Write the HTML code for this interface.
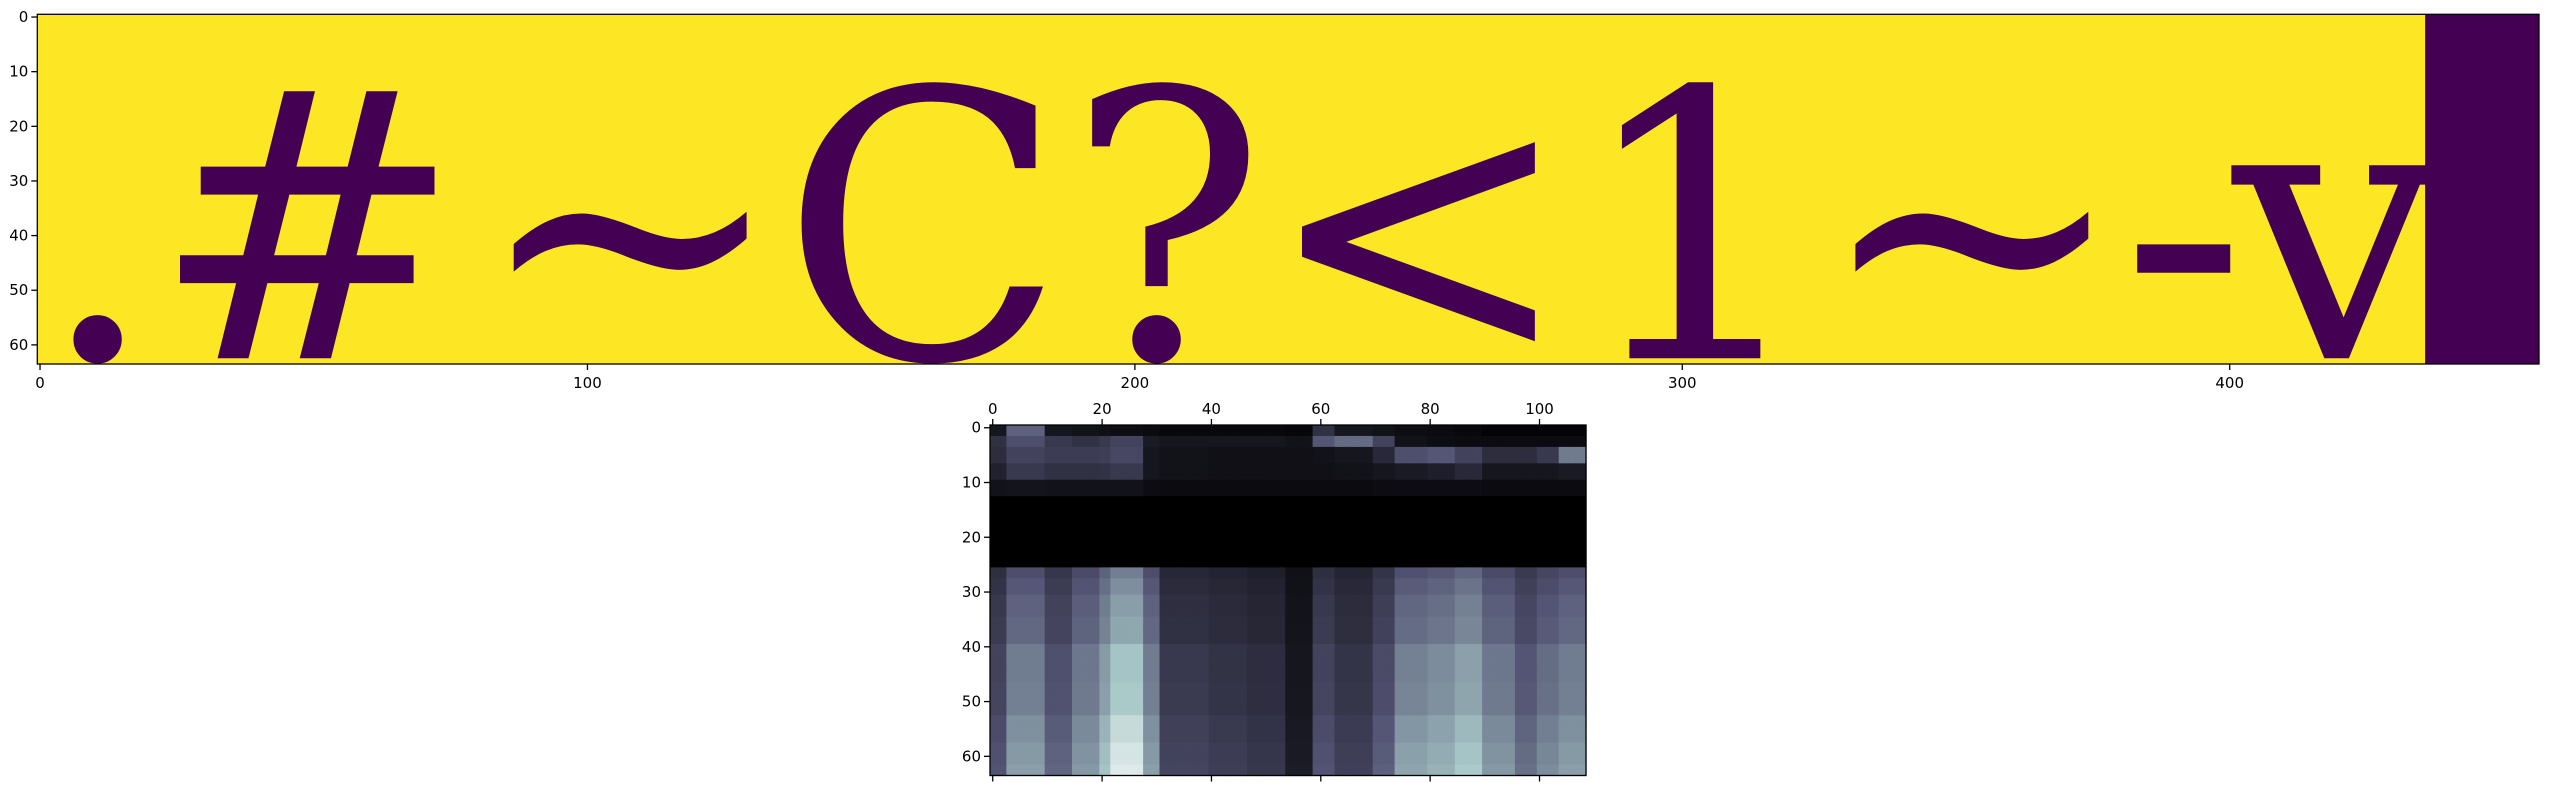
<!DOCTYPE html>
<html><head><meta charset="utf-8"><style>
html,body{margin:0;padding:0;background:#fff;width:2552px;height:790px;overflow:hidden}
svg{display:block}
text{font-family:"DejaVu Sans","Liberation Sans",sans-serif;font-size:15px;fill:#000}
</style></head><body>
<svg id="fig" width="2552" height="790" viewBox="0 0 2552 790">
<defs><clipPath id="clipTop"><rect x="37.3" y="14.3" width="2501.7" height="349.7"/></clipPath></defs>
<g id="topPanel"></g>
<g id="botPanel"></g>
</svg>
<script>
// ---- top image data ----
const topChars = [".", "#", "~", "C", "?", "<", "1", "~", "-", "v"];
const topCharCenters = [10.5, 48.8, 107.8, 161.3, 205.8, 251.8, 302.3, 352.9, 391.6, 419.7];
const topCols = 457, topRows = 64, topBlockStart = 436.2;
const topXTicks = [0, 100, 200, 300, 400];
const topYTicks = [0, 10, 20, 30, 40, 50, 60];

// ---- heatmap data ----
const heatCols = 109, heatRows = 64;
const heatXTicks = [0, 20, 40, 60, 80, 100];
const heatYTicks = [0, 10, 20, 30, 40, 50, 60];
const groupStarts = [0, 3, 10, 15, 20, 22, 28, 31, 40, 47, 54, 59, 63, 70, 74, 80, 85, 90, 96, 100, 104];
const lowerProfile = [0.36, 0.6, 0.42, 0.58, 0.72, 0.88, 0.6, 0.3, 0.27, 0.24, 0.12, 0.36, 0.28, 0.4, 0.62, 0.66, 0.74, 0.58, 0.45, 0.54, 0.6];
const band0 = [0.1, 0.42, 0.1, 0.08, 0.07, 0.06, 0.05, 0.04, 0.04, 0.04, 0.03, 0.22, 0.1, 0.08, 0.06, 0.05, 0.04, 0.02, 0.02, 0.02, 0.02];
const band1 = [0.22, 0.35, 0.25, 0.22, 0.25, 0.3, 0.12, 0.1, 0.1, 0.1, 0.08, 0.38, 0.45, 0.3, 0.08, 0.06, 0.05, 0.05, 0.05, 0.05, 0.05];
const band2 = [0.2, 0.3, 0.27, 0.27, 0.28, 0.32, 0.1, 0.08, 0.07, 0.07, 0.07, 0.08, 0.1, 0.18, 0.35, 0.38, 0.3, 0.2, 0.2, 0.25, 0.5];
const band3 = [0.15, 0.25, 0.22, 0.22, 0.23, 0.25, 0.1, 0.08, 0.07, 0.07, 0.07, 0.07, 0.08, 0.1, 0.12, 0.14, 0.18, 0.1, 0.1, 0.1, 0.12];
const band4 = [0.08, 0.09, 0.08, 0.08, 0.08, 0.08, 0.06, 0.05, 0.05, 0.05, 0.05, 0.05, 0.05, 0.06, 0.06, 0.06, 0.06, 0.05, 0.05, 0.05, 0.05];
const bandRowStarts = [0, 2, 4, 7, 10, 13];
const rowGainStarts = [26, 28, 31, 35, 40, 47, 53, 58, 62];
const rowGains = [0.58, 0.64, 0.7, 0.73, 0.84, 0.86, 0.95, 1.0, 1.03];

const NS = "http://www.w3.org/2000/svg";
function mk(tag, attrs, parent){const e=document.createElementNS(NS,tag);for(const k in attrs)e.setAttribute(k,attrs[k]);parent.appendChild(e);return e;}
function lerpSeg(v, pts){for(let i=1;i<pts.length;i++){if(v<=pts[i][0]){const a=pts[i-1],b=pts[i];return a[1]+(b[1]-a[1])*(v-a[0])/(b[0]-a[0]);}}return pts[pts.length-1][1];}
function bone(v){v=Math.max(0,Math.min(1,v));
 const r=lerpSeg(v,[[0,0],[0.746032,0.652778],[1,1]]);
 const g=lerpSeg(v,[[0,0],[0.365079,0.319444],[0.746032,0.777778],[1,1]]);
 const b=lerpSeg(v,[[0,0],[0.365079,0.444444],[1,1]]);
 return `rgb(${Math.round(r*255)},${Math.round(g*255)},${Math.round(b*255)})`;}

// ---- top panel ----
const T={x0:37.3,y0:14.3,w:2501.7,h:349.7};
const tx=c=>T.x0+(c+0.5)*T.w/topCols, ty=r=>T.y0+(r+0.5)*T.h/topRows;
const topG=document.getElementById('topPanel');
const bg=mk('rect',{x:T.x0,y:T.y0,width:T.w,height:T.h,fill:'#fde725'},topG);


const g1=mk('g',{'clip-path':'url(#clipTop)'},topG);
topChars.forEach((chr,i)=>{
 const t=mk('text',{x:tx(topCharCenters[i]),y:T.y0+344,'text-anchor':'middle',style:'font-family:"DejaVu Serif",serif;font-size:372px;fill:#440154'},g1);
 t.textContent=chr;
 
 
});
const blk=mk('rect',{x:tx(topBlockStart-0.5),y:T.y0,width:T.x0+T.w-tx(topBlockStart-0.5),height:T.h,fill:'#440154'},topG);


mk('rect',{x:T.x0,y:T.y0,width:T.w,height:T.h,fill:'none',stroke:'#000','stroke-width':1.3},topG);
topXTicks.forEach(v=>{const x=tx(v);mk('line',{x1:x,x2:x,y1:T.y0+T.h,y2:T.y0+T.h+6,stroke:'#000','stroke-width':1.3},topG);
 const t=mk('text',{x:x,y:T.y0+T.h+24,'text-anchor':'middle'},topG);t.textContent=v;
 
 });
topYTicks.forEach(v=>{const y=ty(v);mk('line',{x1:T.x0-6,x2:T.x0,y1:y,y2:y,stroke:'#000','stroke-width':1.3},topG);
 const t=mk('text',{x:T.x0-9,y:y+5,'text-anchor':'end'},topG);t.textContent=v;
 
 });

// ---- heatmap ----
const H={x0:990,y0:425,w:596,h:350.5};
const hx=c=>H.x0+(c+0.5)*H.w/heatCols, hy=r=>H.y0+(r+0.5)*H.h/heatRows;
const cw=H.w/heatCols, chh=H.h/heatRows;
const botG=document.getElementById('botPanel');
const bands=[band0,band1,band2,band3,band4];
function groupOf(c){let g=0;for(let i=0;i<groupStarts.length;i++)if(c>=groupStarts[i])g=i;return g;}
function gainOf(r){let g=rowGains[0];for(let i=0;i<rowGainStarts.length;i++)if(r>=rowGainStarts[i])g=rowGains[i];return g;}
function value(r,c){const g=groupOf(c);
 if(r<13){let b=0;for(let i=0;i<5;i++)if(r>=bandRowStarts[i])b=i;return bands[b][g];}
 if(r<26)return 0;
 return lowerProfile[g]*gainOf(r);}
for(let r=0;r<heatRows;r++)for(let c=0;c<heatCols;c++){
 const cell=mk('rect',{x:hx(c)-cw/2,y:hy(r)-chh/2,width:cw+0.6,height:chh+0.6,fill:bone(value(r,c))},botG);
 
 
}
mk('rect',{x:H.x0,y:H.y0,width:H.w,height:H.h,fill:'none',stroke:'#000','stroke-width':1.3},botG);
heatXTicks.forEach(v=>{const x=hx(v);
 mk('line',{x1:x,x2:x,y1:H.y0-6,y2:H.y0,stroke:'#000','stroke-width':1.3},botG);
 mk('line',{x1:x,x2:x,y1:H.y0+H.h,y2:H.y0+H.h+6,stroke:'#000','stroke-width':1.3},botG);
 const t=mk('text',{x:x,y:H.y0-11,'text-anchor':'middle'},botG);t.textContent=v;
 
 });
heatYTicks.forEach(v=>{const y=hy(v);mk('line',{x1:H.x0-6,x2:H.x0,y1:y,y2:y,stroke:'#000','stroke-width':1.3},botG);
 const t=mk('text',{x:H.x0-9,y:y+5,'text-anchor':'end'},botG);t.textContent=v;
 
 });
</script>
</body></html>
